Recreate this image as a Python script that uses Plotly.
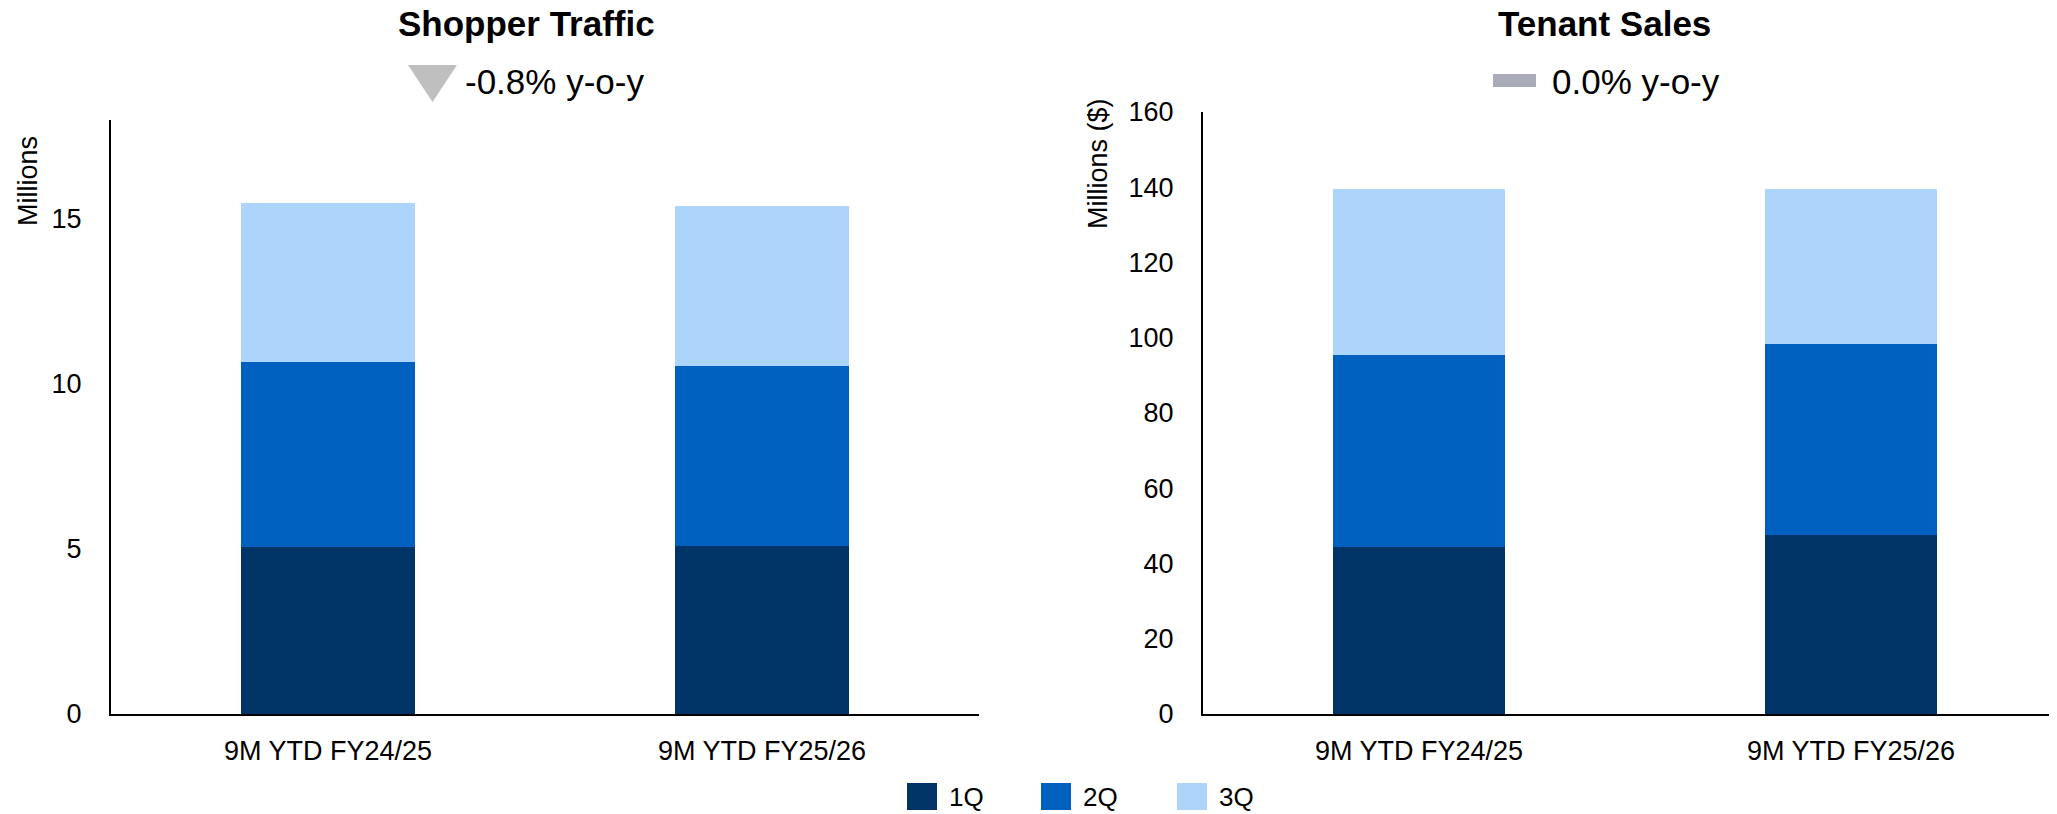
import plotly.graph_objects as go

# ---- data ----
categories = ["9M YTD FY24/25", "9M YTD FY25/26"]
quarters = ["1Q", "2Q", "3Q"]
colors = ["#003366", "#0060C0", "#ADD5FC"]

traffic_1q = [5.07, 5.10]
traffic_2q = [5.60, 5.45]
traffic_3q = [4.82, 4.84]

sales_1q = [44.3, 47.5]
sales_2q = [51.0, 50.9]
sales_3q = [44.2, 41.1]

traffic_ticks = [0, 5, 10, 15]
sales_ticks = [0, 20, 40, 60, 80, 100, 120, 140, 160]

titles = ["Shopper Traffic", "Tenant Sales"]
yoy_texts = ["-0.8% y-o-y", "0.0% y-o-y"]
y_titles = ["Millions", "Millions ($)"]

# page body has an 8px margin: the figure is drawn 8px in from the window corner
OFF = 8
W, H = 2057 - OFF, 814 - OFF
FONT = "Liberation Sans, Arial, sans-serif"


def px(x):
    return (x - OFF) / W


def py(y):
    return 1 - (y - OFF) / H


fig = go.Figure()

for name, col, vals in zip(quarters, colors, [traffic_1q, traffic_2q, traffic_3q]):
    fig.add_trace(go.Bar(x=categories, y=vals, name=name, marker=dict(color=col, line=dict(width=0)),
                         width=0.4, xaxis="x", yaxis="y", showlegend=False))
for name, col, vals in zip(quarters, colors, [sales_1q, sales_2q, sales_3q]):
    fig.add_trace(go.Bar(x=categories, y=vals, name=name, marker=dict(color=col, line=dict(width=0)),
                         width=0.4, xaxis="x2", yaxis="y2", showlegend=False))

axis_common = dict(showgrid=False, zeroline=False, showline=True, linecolor="black", linewidth=2,
                   ticks="", automargin=False,
                   tickfont=dict(size=27, color="black", family=FONT))

fig.update_layout(
    template="none",
    width=W, height=H, autosize=False,
    margin=dict(l=0, r=0, t=0, b=0, pad=0),
    paper_bgcolor="white", plot_bgcolor="white",
    barmode="stack",
    showlegend=False,
    font=dict(family=FONT, color="black"),
    xaxis=dict(domain=[px(111), px(979)], range=[-0.5, 1.5], anchor="y",
               ticklabelstandoff=12, **axis_common),
    yaxis=dict(domain=[py(714), py(120)], range=[0, 18], tickvals=traffic_ticks, anchor="x",
               ticklabelstandoff=22, **axis_common),
    xaxis2=dict(domain=[px(1203), 1.0], range=[-0.5, 1.477], anchor="y2",
                ticklabelstandoff=12, **axis_common),
    yaxis2=dict(domain=[py(714), py(112)], range=[0, 160], tickvals=sales_ticks, anchor="x2",
                ticklabelstandoff=22, **axis_common),
)

ann = []
# titles
for t, cx in zip(titles, [526, 1604]):
    ann.append(dict(text="<b>%s</b>" % t, x=px(cx), y=py(24), xref="paper", yref="paper",
                    xanchor="center", yanchor="middle", showarrow=False,
                    font=dict(size=35, family=FONT, color="black")))
# y-o-y texts
for t, lx in zip(yoy_texts, [463, 1550]):
    ann.append(dict(text=t, x=px(lx), y=py(82), xref="paper", yref="paper",
                    xanchor="left", yanchor="middle", showarrow=False,
                    font=dict(size=35, family=FONT, color="black")))
# y-axis titles
for t, cx, cy in zip(y_titles, [28, 1098], [181, 164]):
    ann.append(dict(text=t, x=px(cx), y=py(cy), xref="paper", yref="paper", textangle=-90,
                    xanchor="center", yanchor="middle", showarrow=False,
                    font=dict(size=27, family=FONT, color="black")))

shapes = []
# down triangle (grey)
shapes.append(dict(type="path", xref="paper", yref="paper",
                   path="M %f %f L %f %f L %f %f Z" % (px(408), py(65), px(457), py(65), px(432.5), py(102)),
                   fillcolor="#BFBFBF", line=dict(width=0)))
# flat bar (grey)
shapes.append(dict(type="rect", xref="paper", yref="paper", x0=px(1493), x1=px(1536), y0=py(87), y1=py(74),
                   fillcolor="#A9ABB8", line=dict(width=0)))

# legend (manual)
legend_x = [907, 1041, 1177]
for name, col, lx in zip(quarters, colors, legend_x):
    shapes.append(dict(type="rect", xref="paper", yref="paper", x0=px(lx), x1=px(lx + 30),
                       y0=py(810), y1=py(783), fillcolor=col, line=dict(width=0)))
    ann.append(dict(text=name, x=px(lx + 40), y=py(797), xref="paper", yref="paper",
                    xanchor="left", yanchor="middle", showarrow=False,
                    font=dict(size=26, family=FONT, color="black")))

fig.update_layout(annotations=ann, shapes=shapes)

fig.write_html("out.html")
